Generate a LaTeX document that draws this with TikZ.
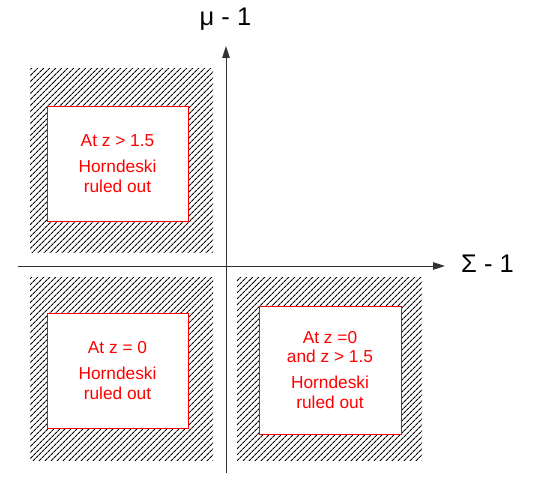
\documentclass[tikz,border=0pt]{standalone}
\usepackage{fontspec}
\setmainfont{Liberation Sans}
\usepackage{tikz}
\usetikzlibrary{arrows.meta,positioning,patterns.meta}

\begin{document}
\begin{tikzpicture}[
    x=1pt, y=-1pt,
    hatchbox/.style={draw=none, minimum width=183pt, minimum height=183pt, inner sep=0pt,
        pattern={Lines[angle=45,distance=4pt,line width=1.1pt]}, pattern color=black},
    rulebox/.style={draw=red, fill=white, line width=0.9pt, inner sep=0pt, align=center,
        text=red, font=\fontsize{17.3}{19.5}\selectfont},
    axis/.style={-{Triangle[length=12pt,width=7.5pt]}, draw=black!80, line width=1pt},
    axlabel/.style={inner sep=0pt, font=\fontsize{25.5}{28}\selectfont}
]
    \useasboundingbox (0,0) rectangle (533,487);

    % shaded quadrants
    \node[hatchbox] (tlhatch) at (121.5,160.5) {};
    \node[hatchbox] (blhatch) at (121.5,368.5) {};
    \node[hatchbox, minimum width=185pt] (brhatch) at (329.5,368.5) {};

    % axes
    \coordinate (xstart) at (18,266);
    \coordinate (xend) at (445,266);
    \coordinate (ystart) at (226,473);
    \coordinate (yend) at (226,46);
    \draw[axis] (xstart) -- (xend);
    \draw[axis] (ystart) -- (yend);
    \node[axlabel] (mulabel) at (225.5,19) {μ - 1};
    \node[axlabel] (sigmalabel) at (487.5,263.5) {Σ - 1};

    % excluded regions
    \node[rulebox, minimum width=141pt, minimum height=115pt] (tlbox) at (117.5,163.5)
        {At z > 1.5\\[6.5pt] Horndeski\\ ruled out};
    \node[rulebox, minimum width=141pt, minimum height=115pt] (blbox) at (117.5,370.5)
        {At z = 0\\[6.5pt] Horndeski\\ ruled out};
    \node[rulebox, minimum width=142pt, minimum height=128pt] (brbox) at (330,370)
        {At z =0\\ and z > 1.5\\[6.5pt] Horndeski\\ ruled out};
\end{tikzpicture}
\end{document}
